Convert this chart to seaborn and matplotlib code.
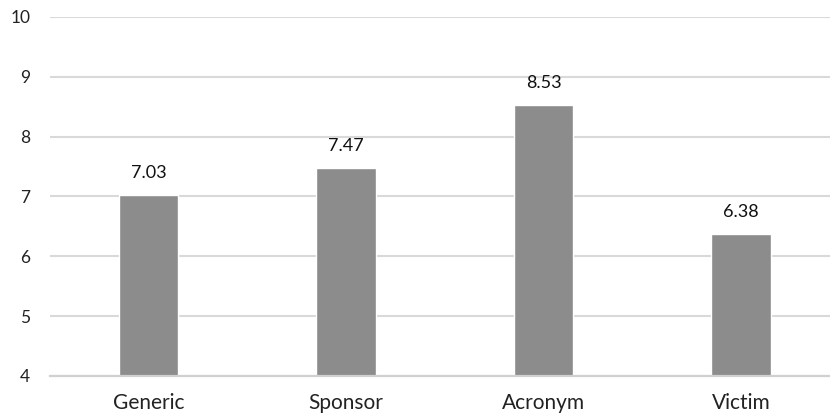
import matplotlib
matplotlib.use("Agg")
import matplotlib.pyplot as plt
import seaborn as sns
import pandas as pd

categories = ["Generic", "Sponsor", "Acronym", "Victim"]
scores = [7.03, 7.47, 8.53, 6.38]
y_ticks = [4, 5, 6, 7, 8, 9, 10]

df = pd.DataFrame({"category": categories, "score": scores})

sns.set_theme(style="white")
plt.rcParams["font.family"] = ["Lato", "DejaVu Sans"]

W, H = 830, 418
fig = plt.figure(figsize=(W / 100, H / 100), dpi=100)
left, right = 49.6 / W, 830 / W
bottom, top = (H - 376) / H, (H - 16.9) / H
ax = fig.add_axes([left, bottom, right - left, top - bottom])

sns.barplot(data=df, x="category", y="score", color="#8c8c8c",
            width=0.3, saturation=1, ax=ax, zorder=3)

ax.set_ylim(4, 10)
ax.set_xlim(-0.5, 3.45)
ax.set_yticks(y_ticks)
ax.yaxis.grid(True, color="#d9d9d9", linewidth=1.5, zorder=0)
ax.set_axisbelow(True)

for s in ["top", "right", "left"]:
    ax.spines[s].set_visible(False)
ax.spines["bottom"].set_color("#d0d0d0")
ax.spines["bottom"].set_linewidth(1.6)
ax.spines["bottom"].set_zorder(4)

ax.tick_params(axis="y", length=0, pad=14, labelsize=12.5, labelcolor="#222222")
ax.tick_params(axis="x", length=0, pad=12, labelsize=15, labelcolor="#222222")
ax.set_xlabel("")
ax.set_ylabel("")

for container in ax.containers:
    ax.bar_label(container, labels=[f"{v:.2f}" for v in scores],
                 padding=10, fontsize=13, color="#111111")

fig.savefig("out.png", dpi=100)
